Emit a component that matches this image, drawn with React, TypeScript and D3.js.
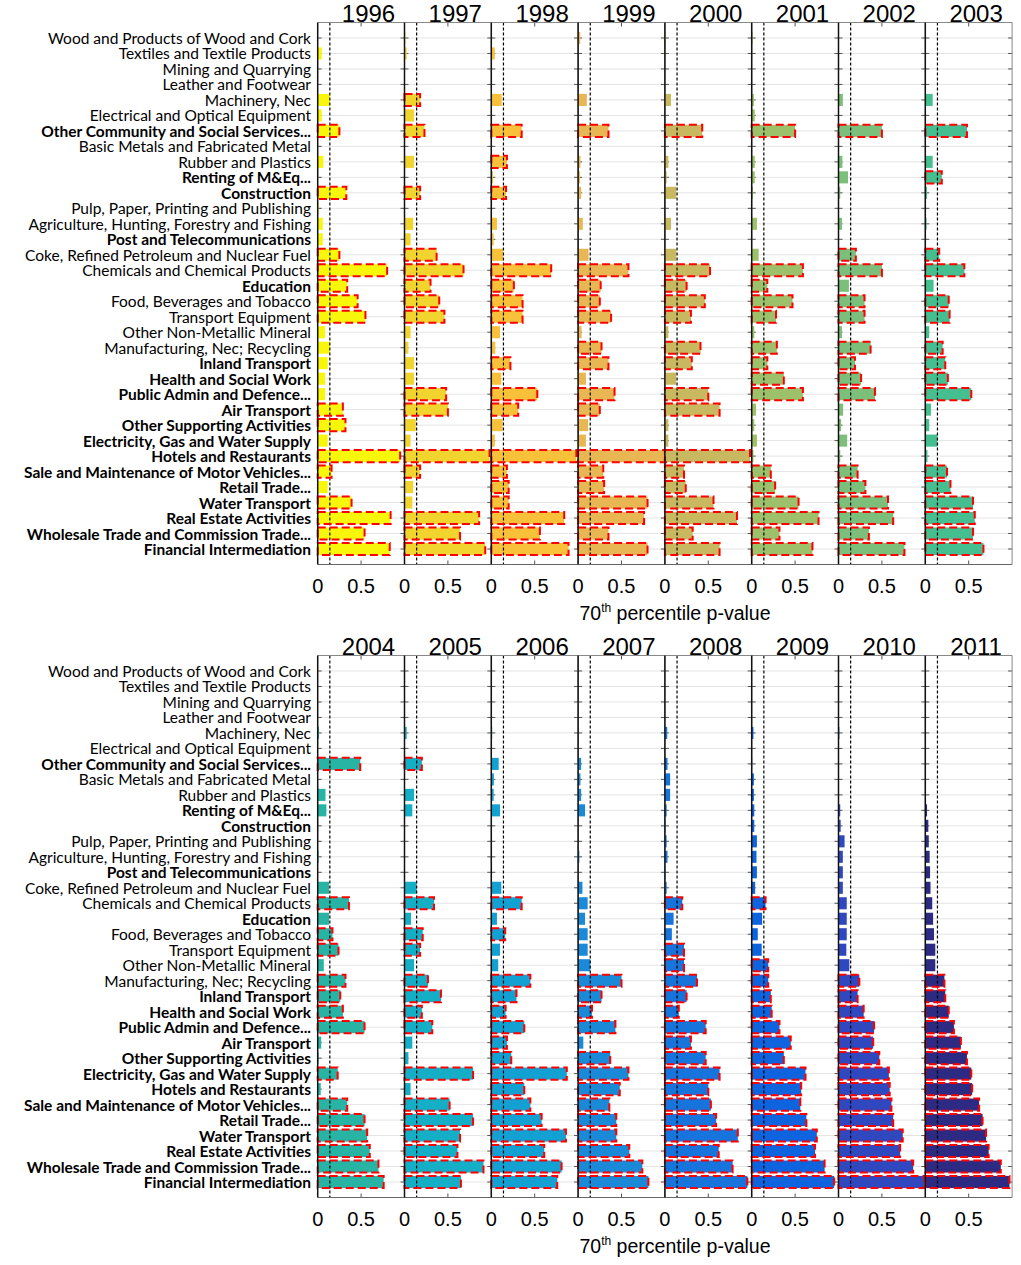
import * as d3 from "d3";
import React from "react";

// sectors, top to bottom
const sectors = [
  "Wood and Products of Wood and Cork",
  "Textiles and Textile Products",
  "Mining and Quarrying",
  "Leather and Footwear",
  "Machinery, Nec",
  "Electrical and Optical Equipment",
  "Other Community and Social Services...",
  "Basic Metals and Fabricated Metal",
  "Rubber and Plastics",
  "Renting of M&Eq...",
  "Construction",
  "Pulp, Paper, Printing and Publishing",
  "Agriculture, Hunting, Forestry and Fishing",
  "Post and Telecommunications",
  "Coke, Refined Petroleum and Nuclear Fuel",
  "Chemicals and Chemical Products",
  "Education",
  "Food, Beverages and Tobacco",
  "Transport Equipment",
  "Other Non-Metallic Mineral",
  "Manufacturing, Nec; Recycling",
  "Inland Transport",
  "Health and Social Work",
  "Public Admin and Defence...",
  "Air Transport",
  "Other Supporting Activities",
  "Electricity, Gas and Water Supply",
  "Hotels and Restaurants",
  "Sale and Maintenance of Motor Vehicles...",
  "Retail Trade...",
  "Water Transport",
  "Real Estate Activities",
  "Wholesale Trade and Commission Trade...",
  "Financial Intermediation",
];

// service sectors shown in bold (row numbers, 1-based)
const boldRows = [7, 10, 11, 14, 17, 22, 23, 24, 25, 26, 27, 28, 29, 30, 31, 32, 33, 34];

const yearsTop = [1996, 1997, 1998, 1999, 2000, 2001, 2002, 2003];
const yearsBottom = [2004, 2005, 2006, 2007, 2008, 2009, 2010, 2011];

// 70th percentile p-values per year (same row order as sectors)
const v1996 = [0, 0.046, 0, 0, 0.14, 0.046, 0.25, 0, 0.065, 0.005, 0.33, 0.01, 0.058, 0.058, 0.25, 0.8, 0.34, 0.46, 0.55, 0.085, 0.14, 0.115, 0.085, 0.085, 0.29, 0.32, 0.115, 0.95, 0.16, 0.115, 0.39, 0.84, 0.54, 0.83];
const v1997 = [0.01, 0.025, 0, 0, 0.18, 0.11, 0.23, 0, 0.11, 0, 0.18, 0, 0.1, 0.07, 0.37, 0.68, 0.3, 0.4, 0.46, 0.07, 0.045, 0.11, 0.11, 0.48, 0.5, 0.13, 0.07, 0.98, 0.18, 0.1, 0.09, 0.86, 0.64, 0.93];
const v1998 = [0.008, 0.04, 0, 0, 0.12, 0, 0.35, 0.005, 0.18, 0.02, 0.17, 0, 0.065, 0.027, 0.135, 0.69, 0.26, 0.36, 0.36, 0.1, 0.046, 0.22, 0.115, 0.53, 0.31, 0.13, 0.04, 0.98, 0.18, 0.2, 0.2, 0.84, 0.56, 0.89];
const v1999 = [0.025, 0.005, 0, 0, 0.1, 0, 0.35, 0, 0.027, 0.023, 0.035, 0, 0.054, 0.005, 0.12, 0.58, 0.26, 0.25, 0.38, 0.04, 0.27, 0.35, 0.09, 0.42, 0.25, 0.115, 0.09, 1.0, 0.29, 0.3, 0.8, 0.76, 0.35, 0.8];
const v2000 = [0.01, 0.005, 0, 0, 0.07, 0, 0.43, 0, 0.04, 0.02, 0.13, 0, 0.07, 0, 0.13, 0.52, 0.25, 0.46, 0.3, 0.04, 0.41, 0.31, 0.13, 0.5, 0.63, 0.04, 0.04, 0.98, 0.22, 0.24, 0.56, 0.83, 0.32, 0.63];
const v2001 = [0.01, 0.005, 0, 0, 0.025, 0.035, 0.5, 0, 0.035, 0.035, 0.015, 0, 0.06, 0, 0.08, 0.59, 0.18, 0.47, 0.28, 0.03, 0.29, 0.18, 0.37, 0.59, 0.05, 0.03, 0.06, 0.02, 0.22, 0.27, 0.54, 0.77, 0.32, 0.7];
const v2002 = [0, 0, 0, 0, 0.05, 0, 0.5, 0, 0.045, 0.11, 0.02, 0, 0.04, 0, 0.2, 0.5, 0.12, 0.3, 0.3, 0.04, 0.37, 0.19, 0.26, 0.42, 0.053, 0.03, 0.1, 0.02, 0.22, 0.31, 0.57, 0.63, 0.35, 0.76];
const v2003 = [0.005, 0, 0, 0, 0.085, 0, 0.48, 0, 0.085, 0.19, 0.02, 0, 0.015, 0, 0.16, 0.45, 0.095, 0.27, 0.28, 0.045, 0.2, 0.23, 0.26, 0.53, 0.065, 0.045, 0.14, 0.025, 0.25, 0.29, 0.55, 0.57, 0.55, 0.67];
const v2004 = [0, 0, 0, 0, 0.015, 0, 0.49, 0, 0.09, 0.1, 0.005, 0, 0.01, 0, 0.13, 0.36, 0.13, 0.17, 0.24, 0.07, 0.32, 0.26, 0.29, 0.54, 0.04, 0.01, 0.23, 0.035, 0.34, 0.54, 0.57, 0.6, 0.7, 0.76];
const v2005 = [0, 0, 0, 0, 0.025, 0, 0.2, 0, 0.11, 0.09, 0, 0.005, 0.005, 0, 0.14, 0.34, 0.075, 0.21, 0.18, 0.11, 0.27, 0.42, 0.2, 0.32, 0.09, 0.045, 0.79, 0.07, 0.52, 0.79, 0.64, 0.61, 0.91, 0.65];
const v2006 = [0, 0, 0, 0, 0.01, 0, 0.085, 0.03, 0.027, 0.1, 0, 0, 0.005, 0, 0.115, 0.35, 0.065, 0.16, 0.1, 0.08, 0.45, 0.29, 0.165, 0.38, 0.18, 0.23, 0.87, 0.38, 0.45, 0.58, 0.86, 0.61, 0.81, 0.76];
const v2007 = [0, 0, 0, 0, 0.005, 0, 0.035, 0.027, 0.035, 0.08, 0, 0, 0.015, 0, 0.05, 0.11, 0.08, 0.11, 0.11, 0.14, 0.5, 0.27, 0.16, 0.43, 0.06, 0.37, 0.58, 0.48, 0.36, 0.44, 0.44, 0.59, 0.74, 0.81];
const v2008 = [0, 0, 0, 0, 0.027, 0, 0.03, 0.06, 0.06, 0.02, 0.005, 0.02, 0.03, 0.005, 0.02, 0.2, 0.1, 0.08, 0.22, 0.22, 0.37, 0.25, 0.16, 0.47, 0.3, 0.47, 0.63, 0.5, 0.53, 0.59, 0.84, 0.62, 0.78, 0.95];
const v2009 = [0, 0, 0, 0, 0.02, 0, 0.005, 0.025, 0.025, 0.03, 0.03, 0.06, 0.055, 0.06, 0.04, 0.16, 0.12, 0.07, 0.115, 0.19, 0.19, 0.22, 0.23, 0.32, 0.45, 0.37, 0.62, 0.57, 0.56, 0.63, 0.75, 0.73, 0.84, 0.95];
const v2010 = [0, 0, 0, 0, 0.01, 0.005, 0.005, 0.005, 0.005, 0.02, 0.025, 0.07, 0.05, 0.05, 0.05, 0.095, 0.095, 0.095, 0.09, 0.125, 0.24, 0.22, 0.29, 0.41, 0.4, 0.47, 0.58, 0.59, 0.61, 0.63, 0.74, 0.71, 0.86, 0.99];
const v2011 = [0, 0, 0, 0, 0.003, 0.003, 0.003, 0.003, 0.008, 0.02, 0.035, 0.04, 0.05, 0.055, 0.06, 0.08, 0.09, 0.1, 0.115, 0.115, 0.22, 0.23, 0.27, 0.33, 0.41, 0.48, 0.53, 0.54, 0.62, 0.66, 0.7, 0.73, 0.87, 0.97];

// rows drawn with the red dashed outline (1-based)
const s1996 = [7, 11, 15, 16, 17, 18, 19, 25, 26, 28, 29, 31, 32, 33, 34];
const s1997 = [5, 7, 11, 15, 16, 17, 18, 19, 24, 25, 28, 29, 32, 33, 34];
const s1998 = [7, 9, 11, 16, 17, 18, 19, 22, 24, 25, 28, 29, 30, 31, 32, 33, 34];
const s1999 = [7, 16, 17, 18, 19, 21, 22, 24, 25, 28, 29, 30, 31, 32, 33, 34];
const s2000 = [7, 16, 17, 18, 19, 21, 22, 24, 25, 28, 29, 30, 31, 32, 33, 34];
const s2001 = [7, 16, 17, 18, 19, 21, 22, 23, 24, 29, 30, 31, 32, 33, 34];
const s2002 = [7, 15, 16, 18, 19, 21, 22, 23, 24, 29, 30, 31, 32, 33, 34];
const s2003 = [7, 10, 15, 16, 18, 19, 21, 22, 23, 24, 29, 30, 31, 32, 33, 34];
const s2004 = [7, 16, 18, 19, 21, 22, 23, 24, 27, 29, 30, 31, 32, 33, 34];
const s2005 = [7, 16, 18, 19, 21, 22, 23, 24, 27, 29, 30, 31, 32, 33, 34];
const s2006 = [16, 18, 21, 22, 23, 24, 25, 26, 27, 28, 29, 30, 31, 32, 33, 34];
const s2007 = [21, 22, 23, 24, 26, 27, 28, 29, 30, 31, 32, 33, 34];
const s2008 = [16, 19, 20, 21, 22, 23, 24, 25, 26, 27, 28, 29, 30, 31, 32, 33, 34];
const s2009 = [16, 20, 21, 22, 23, 24, 25, 26, 27, 28, 29, 30, 31, 32, 33, 34];
const s2010 = [21, 22, 23, 24, 25, 26, 27, 28, 29, 30, 31, 32, 33, 34];
const s2011 = [21, 22, 23, 24, 25, 26, 27, 28, 29, 30, 31, 32, 33, 34];

const colorsTop = ["#f8f60a", "#f2d42e", "#f9c03a", "#e8b652", "#c8b860", "#9dc06a", "#7cbf7a", "#45bf90"];
const colorsBottom = ["#28b4a4", "#14aec6", "#13a0d3", "#1a8ad8", "#1674dc", "#0e63df", "#3048bf", "#2c2a82"];

const threshold = 0.14;
const xTicks = [0, 0.5];

const valuesTop = [v1996, v1997, v1998, v1999, v2000, v2001, v2002, v2003];
const valuesBottom = [v2004, v2005, v2006, v2007, v2008, v2009, v2010, v2011];
const flagsTop = [s1996, s1997, s1998, s1999, s2000, s2001, s2002, s2003];
const flagsBottom = [s2004, s2005, s2006, s2007, s2008, s2009, s2010, s2011];

const W = 1021;
const H = 1265;
const panelLeft = 317.7;
const panelW = 86.8;
const labelFont = "Lato, 'Open Sans', sans-serif";
const axisFont = "'Liberation Sans', Arial, sans-serif";

interface BlockProps {
  top: number;
  bottom: number;
  years: number[];
  values: number[][];
  flags: number[][];
  colors: string[];
}

const Block: React.FC<BlockProps> = ({ top, bottom, years, values, flags, colors }) => {
  const y = d3.scalePoint<string>().domain(sectors).range([top, bottom]).padding(1);
  const step = y.step();
  const barH = step * 0.78;

  return (
    <g>
      {sectors.map((s, i) => (
        <text
          key={s}
          x={311}
          y={y(s)!}
          textAnchor="end"
          dominantBaseline="central"
          fontFamily={labelFont}
          fontSize={15.5}
          fontWeight={boldRows.includes(i + 1) ? 700 : 400}
          fill="#000"
        >
          {s}
        </text>
      ))}
      {years.map((yr, k) => {
        const x0 = panelLeft + k * panelW;
        const x = d3.scaleLinear().domain([0, 1]).range([x0, x0 + panelW]);
        const vals = values[k];
        return (
          <g key={yr}>
            {sectors.map((s) => (
              <line key={s} x1={x0} x2={x0 + panelW} y1={y(s)!} y2={y(s)!} stroke="#e4e4e4" strokeWidth={1} />
            ))}
            {sectors.map((s) => (
              <g key={s}>
                <line x1={x0} x2={x0 + 4} y1={y(s)!} y2={y(s)!} stroke="#555" strokeWidth={1} />
                <line x1={x0 + panelW - 4} x2={x0 + panelW} y1={y(s)!} y2={y(s)!} stroke="#555" strokeWidth={1} />
              </g>
            ))}
            {sectors.map((s, i) =>
              vals[i] > 0 ? (
                <rect
                  key={s}
                  x={x(0)}
                  y={y(s)! - barH / 2}
                  width={x(vals[i]) - x(0)}
                  height={barH}
                  fill={colors[k]}
                />
              ) : null
            )}
            <line
              x1={x(threshold)}
              x2={x(threshold)}
              y1={top}
              y2={bottom}
              stroke="#000"
              strokeWidth={1.2}
              strokeDasharray="3,2"
            />
            {sectors.map((s, i) =>
              flags[k].includes(i + 1) ? (
                <rect
                  key={s}
                  x={x(0)}
                  y={y(s)! - barH / 2}
                  width={x(vals[i]) - x(0)}
                  height={barH}
                  fill="none"
                  stroke="#ff0000"
                  strokeWidth={2}
                  strokeDasharray="8,4"
                />
              ) : null
            )}
            {xTicks.slice(1).map((t) => (
              <g key={t}>
                <line x1={x(t)} x2={x(t)} y1={top} y2={top + 4} stroke="#555" />
                <line x1={x(t)} x2={x(t)} y1={bottom - 4} y2={bottom} stroke="#555" />
              </g>
            ))}
            <line x1={x0} x2={x0 + panelW} y1={top} y2={top} stroke="#888" strokeWidth={1} />
            <line x1={x0} x2={x0 + panelW} y1={bottom} y2={bottom} stroke="#666" strokeWidth={1} />
            <line x1={x0 + panelW} x2={x0 + panelW} y1={top} y2={bottom} stroke="#888" strokeWidth={1} />
            <line x1={x0} x2={x0} y1={top} y2={bottom} stroke="#111" strokeWidth={1.5} />
            {xTicks.map((t) => (
              <text
                key={t}
                x={x(t)}
                y={bottom + 28}
                textAnchor="middle"
                fontFamily={axisFont}
                fontSize={20}
              >
                {t === 0 ? "0" : d3.format(".1f")(t)}
              </text>
            ))}
            <text x={x0 + panelW * 0.585} y={top - 1} textAnchor="middle" fontFamily={axisFont} fontSize={24}>
              {yr}
            </text>
          </g>
        );
      })}
      <text x={675} y={bottom + 55} textAnchor="middle" fontFamily={axisFont} fontSize={19.5}>
        70<tspan dy={-8} fontSize={12}>th</tspan>
        <tspan dy={8}> percentile p-value</tspan>
      </text>
    </g>
  );
};

const App: React.FC = () => {
  return (
    <svg
      width={W}
      height={H}
      style={{ position: "absolute", left: 0, top: 0, background: "white" }}
    >
      <Block top={22.5} bottom={564.5} years={yearsTop} values={valuesTop} flags={flagsTop} colors={colorsTop} />
      <Block top={655.5} bottom={1197.5} years={yearsBottom} values={valuesBottom} flags={flagsBottom} colors={colorsBottom} />
    </svg>
  );
};

export default App;
